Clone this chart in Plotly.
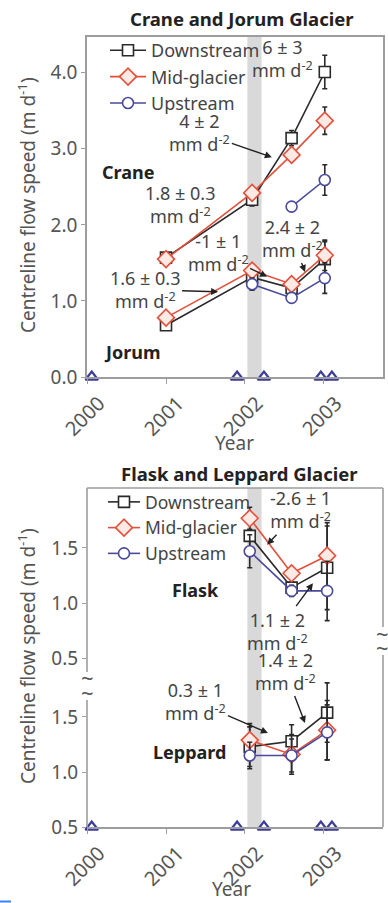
import plotly.graph_objects as go

W, H = 388, 903

# ---------------- data ----------------
year_ticks = [2000, 2001, 2002, 2003]
year_labels = ["2000", "2001", "2002", "2003"]

# Crane / Jorum survey dates (decimal years) and centreline speeds (m/d)
cj_dates = [2001.0, 2002.09, 2002.59, 2003.01]
crane_down = [1.57, 2.33, 3.14, 4.01]
crane_down_err = [0.03, 0.08, 0.10, 0.22]
crane_mid = [1.55, 2.42, 2.92, 3.37]
crane_mid_err = [0.03, 0.08, 0.06, 0.18]
crane_up = [None, None, 2.24, 2.59]
crane_up_err = [0.0, 0.0, 0.04, 0.20]

jorum_down = [0.68, 1.31, 1.17, 1.55]
jorum_down_err = [0.03, 0.10, 0.08, 0.23]
jorum_mid = [0.78, 1.40, 1.22, 1.60]
jorum_mid_err = [0.03, 0.08, 0.06, 0.20]
jorum_up = [None, 1.22, 1.04, 1.30]
jorum_up_err = [0.0, 0.08, 0.05, 0.20]

# Flask / Leppard survey dates and speeds
fl_dates = [2002.06, 2002.59, 2003.04]
flask_down = [1.61, 1.14, 1.32]
flask_down_err = [0.12, 0.05, 0.38]
flask_mid = [1.77, 1.27, 1.43]
flask_mid_err = [0.10, 0.04, 0.30]
flask_up = [1.47, 1.11, 1.11]
flask_up_err = [0.15, 0.05, 0.27]

leppard_down = [1.23, 1.28, 1.54]
leppard_down_err = [0.18, 0.15, 0.27]
leppard_mid = [1.29, 1.16, 1.38]
leppard_mid_err = [0.15, 0.18, 0.27]
leppard_up = [1.15, 1.15, 1.36]
leppard_up_err = [0.12, 0.15, 0.25]

# image acquisition dates marked along the time axis
event_dates = [2000.06, 2001.90, 2002.24, 2002.96, 2003.10]
# Larsen B collapse period
collapse_span = [2002.03, 2002.21]

# ---------------- styling ----------------
FONT = "Noto Sans"
TXT = "#444444"
AX = "#9d9d9d"
DOWN = "#2a2a2a"
MID = "#e4503c"
UP = "#4a4a9c"
TRI = "#3c3c9a"
BAND = "#d9d9d9"


def px_x(p):
    return p / W


def px_y(p):
    return 1 - p / H


X_DOM = [px_x(87), px_x(383)]
X_RANGE = [2000.0, 2003.747]

fig = go.Figure()

series_style = [
    ("Downstream", DOWN, "square", "white", 11),
    ("Mid-glacier", MID, "diamond", "#fdeae4", 13),
    ("Upstream", UP, "circle", "white", 11),
]


def add_group(xs, ys_list, errs_list, xa, ya, legend, show):
    for (name, col, sym, fill, size), ys, errs in zip(series_style, ys_list, errs_list):
        fig.add_trace(go.Scatter(
            x=xs, y=ys, mode="lines+markers", name=name,
            xaxis=xa, yaxis=ya, legend=legend, showlegend=show,
            line=dict(color=col, width=1.6),
            marker=dict(symbol=sym, size=size, color=fill,
                        line=dict(color=col, width=1.6)),
            error_y=dict(type="data", array=errs, visible=True,
                         color="#2a2a2a", thickness=1.6, width=2.5),
            cliponaxis=False,
        ))


# Crane first so the legend entries come from it
add_group(cj_dates, [crane_down, crane_mid, crane_up],
          [crane_down_err, crane_mid_err, crane_up_err], "x", "y", "legend", True)
add_group(cj_dates, [jorum_down, jorum_mid, jorum_up],
          [jorum_down_err, jorum_mid_err, jorum_up_err], "x", "y", "legend", False)
add_group(fl_dates, [flask_down, flask_mid, flask_up],
          [flask_down_err, flask_mid_err, flask_up_err], "x2", "y2", "legend2", True)
add_group(fl_dates, [leppard_down, leppard_mid, leppard_up],
          [leppard_down_err, leppard_mid_err, leppard_up_err], "x2", "y3", "legend2", False)

# acquisition markers on the time axis
for xa, ya, base in [("x", "y", 0.0), ("x2", "y3", 0.5)]:
    fig.add_trace(go.Scatter(
        x=event_dates, y=[base] * len(event_dates), mode="markers",
        xaxis=xa, yaxis=ya, showlegend=False, cliponaxis=False,
        marker=dict(symbol="triangle-up-open", size=11, color=TRI,
                    line=dict(color=TRI, width=2.2)),
    ))

# collapse period bands
fig.add_shape(type="rect", xref="x", yref="y domain",
              x0=collapse_span[0], x1=collapse_span[1], y0=0, y1=1,
              fillcolor=BAND, line_width=0, layer="below")
fig.add_shape(type="rect", xref="x2", yref="paper",
              x0=collapse_span[0], x1=collapse_span[1],
              y0=px_y(827), y1=px_y(488),
              fillcolor=BAND, line_width=0, layer="below")

# frame of the broken lower panel
frame = [
    (87, 488, 383, 488),   # top
    (87, 488, 87, 672),    # left, upper part
    (87, 700, 87, 827),    # left, lower part
    (383, 488, 383, 627),  # right, upper part
    (383, 655, 383, 827),  # right, lower part
]
for x0, y0, x1, y1 in frame:
    fig.add_shape(type="line", xref="paper", yref="paper",
                  x0=px_x(x0), y0=px_y(y0), x1=px_x(x1), y1=px_y(y1),
                  line=dict(color=AX, width=1.6))
fig.add_shape(type="line", xref="paper", yref="paper",
              x0=0, x1=px_x(11), y0=px_y(901.5), y1=px_y(901.5),
              line=dict(color="#3b82f0", width=2))

tick_font = dict(family=FONT, size=19, color="#555555")

xaxis_common = dict(
    domain=X_DOM, range=X_RANGE, tickvals=year_ticks, ticktext=year_labels,
    tickangle=-45, ticks="outside", ticklen=5, tickcolor=AX, tickwidth=1.2,
    showline=True, linecolor=AX, linewidth=1.6, showgrid=False, zeroline=False,
    tickfont=dict(family=FONT, size=20, color="#555555"), automargin=False,
    ticklabelshift=12,
)
yaxis_common = dict(
    ticks="outside", ticklen=4, tickcolor=AX, tickwidth=1.2, tickformat=".1f",
    showgrid=False, zeroline=False, tickfont=tick_font, automargin=False,
)

fig.update_layout(
    width=W, height=H, autosize=False,
    margin=dict(l=0, r=0, t=0, b=0, pad=0),
    paper_bgcolor="white", plot_bgcolor="white",
    font=dict(family=FONT, color=TXT),
    xaxis=dict(**xaxis_common, anchor="y", mirror=True),
    yaxis=dict(**yaxis_common, domain=[px_y(377), px_y(37)], range=[0, 4.47],
               tickvals=[0, 1, 2, 3, 4], anchor="x",
               showline=True, linecolor=AX, linewidth=1.6, mirror=True),
    xaxis2=dict(**xaxis_common, anchor="y3"),
    yaxis2=dict(**yaxis_common, domain=[px_y(672), px_y(488)],
                range=[0.373, 2.045], tickvals=[0.5, 1.0, 1.5], anchor="x2",
                showline=False),
    yaxis3=dict(**yaxis_common, domain=[px_y(827), px_y(672)],
                range=[0.5, 1.909], tickvals=[0.5, 1.0, 1.5], anchor="x2",
                showline=False),
    legend=dict(x=px_x(105), y=px_y(32), xanchor="left", yanchor="top",
                bgcolor="rgba(0,0,0,0)", tracegroupgap=0, itemwidth=36,
                font=dict(family=FONT, size=18, color=TXT)),
    legend2=dict(x=px_x(103), y=px_y(484), xanchor="left", yanchor="top",
                 bgcolor="rgba(0,0,0,0)", tracegroupgap=0, itemwidth=32,
                 font=dict(family=FONT, size=17.5, color=TXT)),
)

ann = []


def label(text, xp, yp, size=18, bold=False, color=TXT, angle=0):
    ann.append(dict(text=f"<b>{text}</b>" if bold else text,
                    x=px_x(xp), y=px_y(yp), xref="paper", yref="paper",
                    xanchor="center", yanchor="middle",
                    showarrow=False, textangle=angle,
                    font=dict(family=FONT, size=size, color=color)))


def pointer(text, x, y, xa, ya, ax, ay):
    ann.append(dict(text=text, x=x, y=y, xref=xa, yref=ya, ax=ax, ay=ay,
                    showarrow=True, arrowhead=2, arrowsize=1, arrowwidth=1.4,
                    arrowcolor="#222222",
                    font=dict(family=FONT, size=18, color=TXT)))


RATE = "mm d<sup>-2</sup>"

# titles
label("Crane and Jorum Glacier", 242, 18, size=18.5, bold=True, color="#222222")
label("Flask and Leppard Glacier", 239, 473, size=18.5, bold=True, color="#222222")
label("Year", 235, 443, size=19, color="#555555")
label("Year", 231, 889, size=19, color="#555555")
ytitle = "Centreline flow speed (m d<sup>-1</sup>)"
label(ytitle, 27, 205, size=19, color="#555555", angle=-90)
label(ytitle, 27, 656, size=19, color="#555555", angle=-90)

# glacier names
label("Crane", 128, 172, size=18, bold=True, color="#222222")
label("Jorum", 132, 352, size=18, bold=True, color="#222222")
label("Flask", 195, 590, size=18, bold=True, color="#222222")
label("Leppard", 189, 752, size=18, bold=True, color="#222222")

# acceleration annotations
label(f"6 ± 3<br>{RATE}", 282, 58)
label(f"1.8 ± 0.3<br>{RATE}", 180, 204)
pointer(f"4 ± 2<br>{RATE}", 2002.34, 2.89, "x", "y", -72, -25)
pointer(f"-1 ± 1<br>{RATE}", 2002.28, 1.32, "x", "y", -49, -24)
pointer(f"2.4 ± 2<br>{RATE}", 2002.76, 1.38, "x", "y", -13, -34)
pointer(f"1.6 ± 0.3<br>{RATE}", 2001.66, 1.12, "x", "y", -73, -2)

pointer(f"-2.6 ± 1<br>{RATE}", 2002.28, 1.53, "x2", "y2", 33, -35)
pointer(f"1.1 ± 2<br>{RATE}", 2002.86, 1.18, "x2", "y2", -35, 48)
pointer(f"1.4 ± 2<br>{RATE}", 2002.76, 1.445, "x2", "y3", -20, -52)
pointer(f"0.3 ± 1<br>{RATE}", 2002.29, 1.355, "x2", "y3", -72, -31)

# axis break marks
for xp, yp in [(87, 677), (87, 692), (382, 633), (382, 647)]:
    label("~", xp, yp, size=22, color="#555555")

fig.update_layout(annotations=ann)
fig.write_html("out.html")
